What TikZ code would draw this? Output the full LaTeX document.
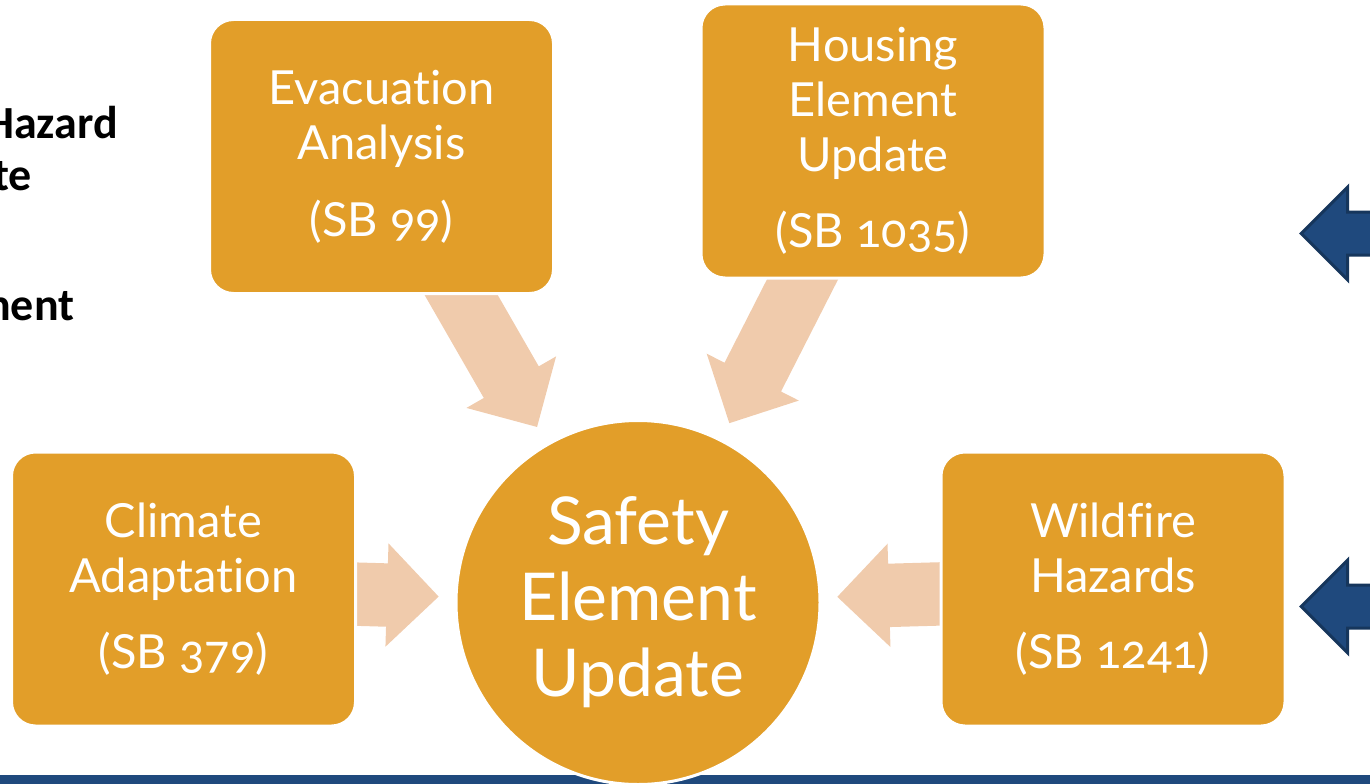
\documentclass[tikz,border=0pt]{standalone}
\usepackage{fontspec}
\setmainfont{Lato}[Numbers=OldStyle, Ligatures=NoCommon]
\newfontfamily\sidefont{Carlito}
\usetikzlibrary{shapes.arrows,calc}

\definecolor{boxorange}{RGB}{226,158,41}
\definecolor{arrowpeach}{RGB}{240,203,172}
\definecolor{navyfill}{RGB}{31,73,125}
\definecolor{navyline}{RGB}{22,54,92}

\tikzset{
	billbox/.style={rectangle, rounded corners=24pt, fill=boxorange, draw=white, line width=3pt, minimum width=344pt, minimum height=274pt, inner sep=0pt, text=white, align=center, font=\fontsize{47}{55}\selectfont},
	hubcircle/.style={circle, fill=boxorange, draw=white, line width=3pt, minimum size=364pt, inner sep=0pt, text=white, align=center, font=\fontsize{66}{76}\selectfont},
	feedarrow/.style={single arrow, anchor=tip, fill=arrowpeach, inner xsep=0pt, inner ysep=31.5pt, single arrow head extend=20pt},
	navyarrow/.style={single arrow, shape border rotate=180, anchor=tip, fill=navyfill, draw=navyline, line width=3pt, inner xsep=0pt, inner ysep=20pt, minimum height=110pt, single arrow head extend=25pt},
	sidetext/.style={font=\sidefont\bfseries\fontsize{46}{53}\selectfont, inner sep=0pt, anchor=base west},
}

\begin{document}
\begin{tikzpicture}[x=1pt, y=-1pt]
	\useasboundingbox (0,0) rectangle (1370,784);
	
	\coordinate (hubpos) at (638,602.5);
	\coordinate (evacpos) at (381.5,156.5);
	\coordinate (housepos) at (873,141);
	\coordinate (climpos) at (183.5,589);
	\coordinate (firepos) at (1113,589);
	
	% text cut off at the left edge
	\node[sidetext] (hazard) at (-15,138) {Hazard};
	\node[sidetext] (te) at (-7,190) {te};
	\node[sidetext] (nent) at (-14,320) {nent};
	
	% arrows into the hub
	\path let \p1=($(hubpos)-(evacpos)$), \n1={atan2(\y1,\x1)} in
		node[feedarrow, minimum height=190pt, rotate=\n1] (evacarrow) at ($(evacpos)!0.607!(hubpos)$) {};
	\path let \p1=($(hubpos)-(housepos)$), \n1={atan2(\y1,\x1)} in
		node[feedarrow, minimum height=190pt, rotate=\n1] (housearrow) at ($(housepos)!0.612!(hubpos)$) {};
	\path let \p1=($(hubpos)-(climpos)$), \n1={atan2(\y1,\x1)} in
		node[feedarrow, minimum height=109pt, rotate=\n1] (climarrow) at ($(climpos)!0.562!(hubpos)$) {};
	\path let \p1=($(hubpos)-(firepos)$), \n1={atan2(\y1,\x1)} in
		node[feedarrow, minimum height=123pt, rotate=\n1] (firearrow) at ($(firepos)!0.581!(hubpos)$) {};
	
	\node[billbox] (evac) at (evacpos) {Evacuation\\Analysis\\[22pt](SB 99)};
	\node[billbox] (house) at (housepos) {Housing\\Element\\Update\\[21pt](SB 1035)};
	\node[billbox] (clim) at (climpos) {Climate\\Adaptation\\[21pt](SB 379)};
	\node[billbox] (fire) at (firepos) {Wildfire\\Hazards\\[21pt](SB 1241)};
	
	% arrows at the right edge
	\node[navyarrow] (navyup) at (1299,233.5) {};
	\node[navyarrow] (navydown) at (1299,606.5) {};
	
	\fill[navyfill] (0,775) rectangle (1370,784);
	
	\node[hubcircle] (hub) at (hubpos) {Safety\\Element\\Update};
\end{tikzpicture}
\end{document}
